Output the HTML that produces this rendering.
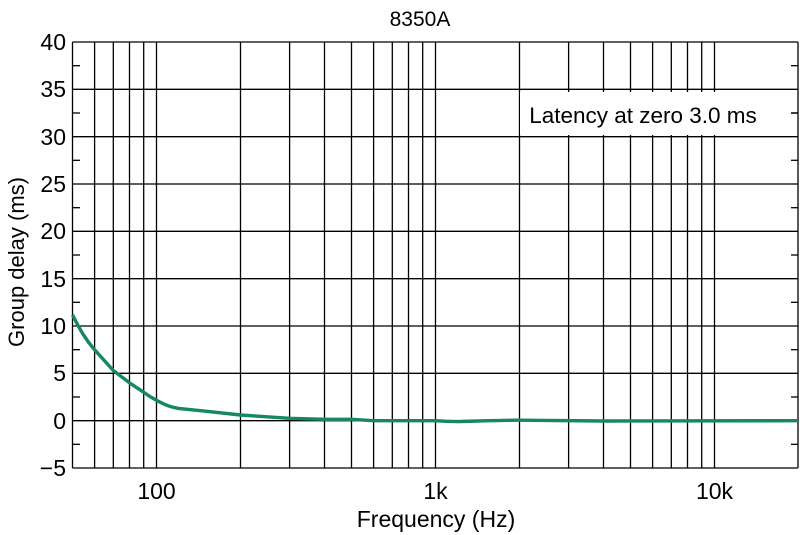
<!DOCTYPE html>
<html><head><style>body{margin:0;background:#fff}svg{display:block}</style></head><body>
<svg width="800" height="535" xmlns="http://www.w3.org/2000/svg" font-family="Liberation Sans, Arial, sans-serif">
<rect width="800" height="535" fill="#fff"/>
<g stroke="#000" stroke-width="1.3">
<line x1="72.5" y1="42" x2="798" y2="42"/>
<line x1="72.5" y1="468" x2="798" y2="468"/>
<line x1="72.5" y1="42" x2="72.5" y2="468"/>
<line x1="798" y1="42" x2="798" y2="468"/>
<line x1="72.5" y1="89.3" x2="798" y2="89.3"/>
<line x1="72.5" y1="136.7" x2="798" y2="136.7"/>
<line x1="72.5" y1="184" x2="798" y2="184"/>
<line x1="72.5" y1="231.3" x2="798" y2="231.3"/>
<line x1="72.5" y1="278.7" x2="798" y2="278.7"/>
<line x1="72.5" y1="326" x2="798" y2="326"/>
<line x1="72.5" y1="373.3" x2="798" y2="373.3"/>
<line x1="72.5" y1="420.7" x2="798" y2="420.7"/>
<line x1="72.5" y1="65.7" x2="80" y2="65.7"/>
<line x1="72.5" y1="113" x2="80" y2="113"/>
<line x1="72.5" y1="160.3" x2="80" y2="160.3"/>
<line x1="72.5" y1="207.7" x2="80" y2="207.7"/>
<line x1="72.5" y1="255" x2="80" y2="255"/>
<line x1="72.5" y1="302.3" x2="80" y2="302.3"/>
<line x1="72.5" y1="349.7" x2="80" y2="349.7"/>
<line x1="72.5" y1="397" x2="80" y2="397"/>
<line x1="72.5" y1="444.3" x2="80" y2="444.3"/>
<line x1="791" y1="65.7" x2="798" y2="65.7"/>
<line x1="791" y1="113" x2="798" y2="113"/>
<line x1="791" y1="160.3" x2="798" y2="160.3"/>
<line x1="791" y1="207.7" x2="798" y2="207.7"/>
<line x1="791" y1="255" x2="798" y2="255"/>
<line x1="791" y1="302.3" x2="798" y2="302.3"/>
<line x1="791" y1="349.7" x2="798" y2="349.7"/>
<line x1="791" y1="397" x2="798" y2="397"/>
<line x1="791" y1="444.3" x2="798" y2="444.3"/>
<line x1="94.6" y1="42" x2="94.6" y2="468"/>
<line x1="113.3" y1="42" x2="113.3" y2="468"/>
<line x1="129.5" y1="42" x2="129.5" y2="468"/>
<line x1="143.7" y1="42" x2="143.7" y2="468"/>
<line x1="156.5" y1="42" x2="156.5" y2="468"/>
<line x1="240.5" y1="42" x2="240.5" y2="468"/>
<line x1="289.6" y1="42" x2="289.6" y2="468"/>
<line x1="324.5" y1="42" x2="324.5" y2="468"/>
<line x1="351.5" y1="42" x2="351.5" y2="468"/>
<line x1="373.6" y1="42" x2="373.6" y2="468"/>
<line x1="392.3" y1="42" x2="392.3" y2="468"/>
<line x1="408.5" y1="42" x2="408.5" y2="468"/>
<line x1="422.7" y1="42" x2="422.7" y2="468"/>
<line x1="435.5" y1="42" x2="435.5" y2="468"/>
<line x1="519.5" y1="42" x2="519.5" y2="468"/>
<line x1="568.6" y1="42" x2="568.6" y2="468"/>
<line x1="603.5" y1="42" x2="603.5" y2="468"/>
<line x1="630.5" y1="42" x2="630.5" y2="468"/>
<line x1="652.6" y1="42" x2="652.6" y2="468"/>
<line x1="671.3" y1="42" x2="671.3" y2="468"/>
<line x1="687.5" y1="42" x2="687.5" y2="468"/>
<line x1="701.7" y1="42" x2="701.7" y2="468"/>
<line x1="714.5" y1="42" x2="714.5" y2="468"/>
</g>
<rect x="520" y="92" width="270" height="43" fill="#fff"/>
<line x1="791" y1="113" x2="798" y2="113" stroke="#000" stroke-width="1.3"/>
<text x="643" y="123" font-size="22.5" text-anchor="middle">Latency at zero 3.0 ms</text>
<path d="M72.5,314.7 C80,330 86,340 94.6,349.7 L113.3,370.5 L129.5,382.8 L143.7,392.3 C150,397 152,398 156.5,400.3 C165,405 170,407 178.6,408.4 L205.6,411.2 L240.5,415 L289.6,418.3 L324.5,419.3 L351.5,419.3 L373.6,420.7 L435.5,420.7 C445,421.5 450,421.6 457.6,421.6 C480,421 500,420.2 519.5,420.2 L603.5,421 L798,420.7" fill="none" stroke="#16875f" stroke-width="3.4" stroke-linejoin="round"/>
<text x="420" y="26" font-size="21" text-anchor="middle">8350A</text>
<g font-size="23" text-anchor="end">
<text x="66" y="50">40</text><text x="66" y="97">35</text><text x="66" y="145">30</text>
<text x="66" y="192">25</text><text x="66" y="239">20</text><text x="66" y="287">15</text>
<text x="66" y="334">10</text><text x="66" y="381">5</text><text x="66" y="429">0</text>
<text x="66" y="476">−5</text>
</g>
<g font-size="23" text-anchor="middle">
<text x="156.5" y="499">100</text><text x="435.5" y="499">1k</text><text x="714.5" y="499">10k</text>
<text x="436" y="527">Frequency (Hz)</text>
</g>
<text transform="translate(24,262) rotate(-90)" font-size="22" text-anchor="middle">Group delay (ms)</text>
</svg>
</body></html>
